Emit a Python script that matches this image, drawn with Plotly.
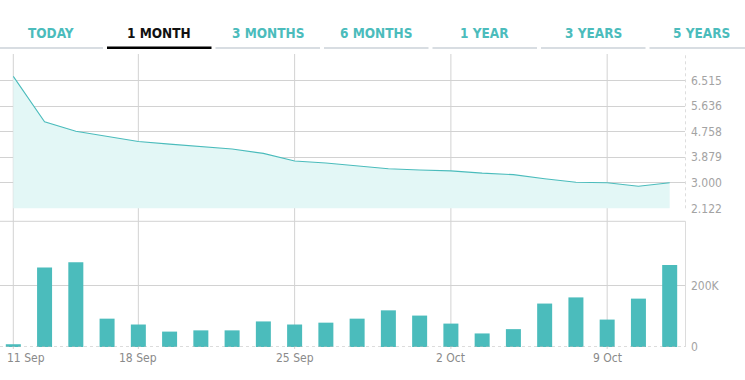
import plotly.graph_objects as go

# ---- data ----
dates = ["11 Sep", "13 Sep", "14 Sep", "15 Sep", "18 Sep", "19 Sep", "20 Sep", "21 Sep",
         "22 Sep", "25 Sep", "26 Sep", "27 Sep", "28 Sep", "29 Sep", "2 Oct", "3 Oct",
         "4 Oct", "5 Oct", "6 Oct", "9 Oct", "10 Oct", "11 Oct"]
price = [6.66, 5.10, 4.77, 4.59, 4.42, 4.33, 4.25, 4.16, 4.01, 3.75, 3.68, 3.57,
         3.48, 3.44, 3.41, 3.33, 3.28, 3.14, 3.02, 3.00, 2.88, 3.00]
volume = [9000, 258000, 275000, 92000, 73000, 50000, 54000, 54000, 83000, 73000, 79000,
          92000, 119000, 102000, 76000, 44000, 58000, 141000, 161000, 89000, 157000, 266000]
date_ticks = ["11 Sep", "18 Sep", "25 Sep", "2 Oct", "9 Oct"]
price_ticks = [2.122, 3.000, 3.879, 4.758, 5.636, 6.515]
price_tick_labels = ["2.122", "3.000", "3.879", "4.758", "5.636", "6.515"]
volume_ticks = [0, 200000]
volume_tick_labels = ["0", "200K"]
tabs = ["TODAY", "1 MONTH", "3 MONTHS", "6 MONTHS", "1 YEAR", "3 YEARS", "5 YEARS"]
active_tab = "1 MONTH"

# ---- styling ----
W, H = 745, 380
L, R, T, B = 0, 60, 55, 33
PW, PH = W - L - R, H - T - B
TEAL = "#4bbcbc"
FILL = "#e3f7f6"
GRID = "#d2d2d2"
FONT = "DejaVu Sans Condensed, Liberation Sans Narrow, Roboto, sans-serif"


def py(pix):  # page pixel y -> paper y
    return (H - B - pix) / PH


def px(pix):  # page pixel x -> paper x
    return (pix - L) / PW


price_dom = [py(208.3), 1.0]
vol_dom = [0.0, py(221.3)]
xr = [-0.426, 21.49]

fig = go.Figure()
fig.add_trace(go.Scatter(x=dates, y=price, mode="lines", line=dict(color=TEAL, width=1.1),
                         fill="tozeroy", fillcolor=FILL, xaxis="x", yaxis="y",
                         hoverinfo="skip", showlegend=False))
fig.add_trace(go.Bar(x=dates, y=volume, marker=dict(color=TEAL, line=dict(width=0)),
                     xaxis="x2", yaxis="y2", hoverinfo="skip", showlegend=False))

shapes = []
# vertical grid lines through both panels
for d in date_ticks:
    shapes.append(dict(type="line", xref="x", yref="paper", x0=d, x1=d,
                       y0=py(349), y1=py(54), line=dict(color=GRID, width=1), layer="below"))
# right border lines
shapes.append(dict(type="line", xref="paper", yref="paper", x0=px(685.5), x1=px(685.5),
                   y0=price_dom[0], y1=py(54), line=dict(color="#dddddd", width=1, dash="dot"),
                   layer="below"))
shapes.append(dict(type="line", xref="paper", yref="paper", x0=px(685.5), x1=px(685.5),
                   y0=py(346.7), y1=vol_dom[1], line=dict(color="#dcdcdc", width=1),
                   layer="below"))
# top line of volume panel
shapes.append(dict(type="line", xref="paper", yref="paper", x0=0, x1=px(685.5),
                   y0=vol_dom[1], y1=vol_dom[1], line=dict(color=GRID, width=1), layer="below"))
# dotted zero baseline
shapes.append(dict(type="line", xref="paper", yref="y2", x0=0, x1=px(685.5), y0=0, y1=0,
                   line=dict(color="#b8b8b8", width=1, dash="dot"), layer="above"))

annotations = []
# tabs
for i, t in enumerate(tabs):
    x0 = -1.5 + 108.5 * i
    x1 = x0 + 104.5
    active = (t == active_tab)
    shapes.append(dict(type="rect", xref="paper", yref="paper", x0=px(x0), x1=px(x1),
                       y0=py(49), y1=py(46.5) if active else py(47),
                       fillcolor="#000000" if active else "#d8dde2", line=dict(width=0)))
    annotations.append(dict(text=t, xref="paper", yref="paper", x=px((x0 + x1) / 2), y=py(33),
                            xanchor="center", yanchor="middle", showarrow=False,
                            font=dict(family=FONT, size=13.5,
                                      color="#111111" if active else TEAL,
                                      weight="bold")))
# date labels
for j, d in enumerate(date_ticks):
    annotations.append(dict(text=d, xref="x2", yref="paper", x=d, y=py(358),
                            xanchor="left" if j == 0 else "center", yanchor="middle",
                            xshift=-8 if j == 0 else 0, showarrow=False,
                            font=dict(family=FONT, size=12, color="#8a8a8a")))

fig.update_layout(
    width=W, height=H, margin=dict(l=L, r=R, t=T, b=B),
    paper_bgcolor="white", plot_bgcolor="rgba(0,0,0,0)",
    bargap=0.52, showlegend=False,
    xaxis=dict(type="category", categoryarray=dates, range=xr, domain=[0, 1],
               anchor="y", showgrid=False, showticklabels=False, zeroline=False,
               fixedrange=True),
    xaxis2=dict(type="category", categoryarray=dates, range=xr, domain=[0, 1],
                anchor="y2", showgrid=False, showticklabels=False, zeroline=False,
                matches="x"),
    yaxis=dict(domain=price_dom, range=[2.122, 7.394], side="right", anchor="x",
               tickvals=price_ticks, ticktext=price_tick_labels, showgrid=True,
               gridcolor=GRID, gridwidth=1, zeroline=False, ticks="", ticklabelstandoff=5,
               tickfont=dict(family=FONT, size=12, color="#a3a3a3")),
    yaxis2=dict(domain=vol_dom, range=[0, 408000], side="right", anchor="x2",
                tickvals=volume_ticks, ticktext=volume_tick_labels, showgrid=True,
                gridcolor=GRID, gridwidth=1, zeroline=False, ticks="", ticklabelstandoff=5,
                tickfont=dict(family=FONT, size=12, color="#a3a3a3")),
    shapes=shapes, annotations=annotations,
)

fig.write_html("out.html", config={"displayModeBar": False},
               post_script="document.body.style.margin='0';document.body.style.overflow='hidden';")
